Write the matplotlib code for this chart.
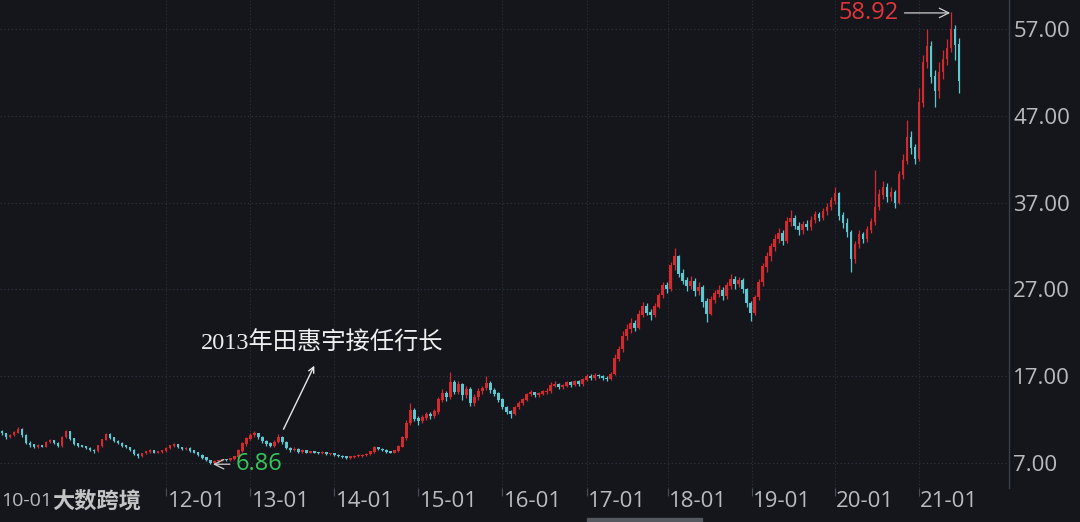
import numpy as np
import matplotlib
matplotlib.use("Agg")
import matplotlib.pyplot as plt
import matplotlib.transforms as mtransforms
from matplotlib.patches import Rectangle

# candle data (roughly 2.5 weeks per candle)
opens = [
    10.6, 10.4, 10.0, 10.2, 10.5, 10.9, 10.2, 9.3, 9.1, 8.8,
    9.0, 8.9, 9.4, 9.6, 9.3, 9.0, 10.0, 10.6, 9.8, 9.2,
    9.0, 8.9, 8.7, 8.5, 8.4, 9.0, 9.7, 10.3, 9.9, 9.5,
    9.3, 9.0, 8.8, 8.5, 8.0, 7.8, 8.1, 8.3, 8.4, 8.2,
    8.3, 8.4, 8.7, 9.0, 9.1, 8.8, 8.6, 8.7, 8.4, 8.2,
    7.9, 7.6, 7.3, 7.0, 7.2, 7.3, 7.4, 7.3, 7.5, 7.7,
    8.4, 9.2, 9.8, 10.2, 10.4, 10.0, 9.5, 9.2, 9.0, 9.4,
    10.0, 9.4, 8.7, 8.5, 8.6, 8.3, 8.4, 8.2, 8.3, 8.2,
    8.1, 8.2, 8.0, 8.1, 7.9, 7.8, 7.7, 7.6, 7.7, 7.75,
    7.8, 7.9, 8.0, 8.3, 8.8, 8.6, 8.5, 8.3, 8.2, 8.4,
    8.9, 9.9, 11.6, 13.0, 12.1, 11.8, 12.2, 12.6, 12.4, 12.9,
    14.3, 15.0, 14.6, 16.3, 15.2, 16.0, 14.8, 15.5, 13.9, 14.6,
    15.3, 15.6, 16.2, 15.4, 15.0, 14.3, 13.4, 12.9, 12.6, 13.4,
    13.9, 14.3, 14.9, 15.1, 14.8, 15.0, 15.2, 15.3, 15.9, 16.1,
    15.7, 15.9, 16.3, 16.0, 16.4, 16.1, 16.6, 17.0, 16.8, 17.1,
    17.0, 16.8, 16.7, 17.2, 19.0, 20.1, 21.6, 22.4, 23.1, 22.6,
    24.1, 25.0, 24.3, 24.0, 25.0, 26.3, 27.4, 27.0, 29.8, 30.8,
    28.8, 28.0, 27.4, 27.9, 26.8, 27.2, 25.6, 24.2, 25.8, 26.5,
    26.9, 26.2, 27.4, 28.2, 27.6, 28.0, 27.0, 25.4, 24.3, 26.1,
    27.8, 29.6, 30.8, 31.9, 32.8, 33.5, 32.6, 34.8, 35.2, 34.3,
    33.8, 34.5, 34.2, 35.0, 35.6, 35.2, 36.0, 36.5, 37.2, 38.0,
    35.5, 34.6, 33.6, 30.5, 32.2, 33.3, 32.8, 33.9, 34.8, 36.5,
    37.9, 38.8, 37.6, 38.2, 37.0, 40.2, 41.8, 44.5, 43.3, 42.0,
    48.5, 53.2, 55.0, 51.5, 49.8, 52.0, 53.5, 54.8, 57.0, 55.2,
]
closes = [
    10.4, 10.0, 10.2, 10.5, 10.9, 10.2, 9.3, 9.1, 8.8, 9.0,
    8.9, 9.4, 9.6, 9.3, 9.0, 10.0, 10.6, 9.8, 9.2, 9.0,
    8.9, 8.7, 8.5, 8.4, 9.0, 9.7, 10.3, 9.9, 9.5, 9.3,
    9.0, 8.8, 8.5, 8.0, 7.8, 8.1, 8.3, 8.4, 8.2, 8.3,
    8.4, 8.7, 9.0, 9.1, 8.8, 8.6, 8.7, 8.4, 8.2, 7.9,
    7.6, 7.3, 7.0, 7.2, 7.3, 7.4, 7.3, 7.5, 7.7, 8.4,
    9.2, 9.8, 10.2, 10.4, 10.0, 9.5, 9.2, 9.0, 9.4, 10.0,
    9.4, 8.7, 8.5, 8.6, 8.3, 8.4, 8.2, 8.3, 8.2, 8.1,
    8.2, 8.0, 8.1, 7.9, 7.8, 7.7, 7.6, 7.7, 7.8, 7.85,
    7.9, 8.0, 8.3, 8.8, 8.6, 8.5, 8.3, 8.2, 8.4, 8.9,
    9.9, 11.6, 13.0, 12.1, 11.8, 12.2, 12.6, 12.4, 12.9, 14.3,
    15.0, 14.6, 16.3, 15.2, 16.0, 14.8, 15.5, 13.9, 14.6, 15.3,
    15.6, 16.2, 15.4, 15.0, 14.3, 13.4, 12.9, 12.6, 13.4, 13.9,
    14.3, 14.9, 15.1, 14.8, 15.0, 15.2, 15.3, 15.9, 16.1, 15.7,
    15.9, 16.3, 16.0, 16.4, 16.1, 16.6, 17.0, 16.8, 17.1, 17.0,
    16.8, 16.7, 17.2, 19.0, 20.1, 21.6, 22.4, 23.1, 22.6, 24.1,
    25.0, 24.3, 24.0, 25.0, 26.3, 27.4, 27.0, 29.8, 30.8, 28.8,
    28.0, 27.4, 27.9, 26.8, 27.2, 25.6, 24.2, 25.8, 26.5, 26.9,
    26.2, 27.4, 28.2, 27.6, 28.0, 27.0, 25.4, 24.3, 26.1, 27.8,
    29.6, 30.8, 31.9, 32.8, 33.5, 32.6, 34.8, 35.2, 34.3, 33.8,
    34.5, 34.2, 35.0, 35.6, 35.2, 36.0, 36.5, 37.2, 38.0, 35.5,
    34.6, 33.6, 30.5, 32.2, 33.3, 32.8, 33.9, 34.8, 36.5, 37.9,
    38.8, 37.6, 38.2, 37.0, 40.2, 41.8, 44.5, 43.3, 42.0, 48.5,
    53.2, 55.0, 51.5, 49.8, 52.0, 53.5, 54.8, 57.0, 55.2, 51.0,
]
highs = [
    10.8, 10.5, 10.3, 10.7, 11.1, 11.0, 10.3, 9.5, 9.2, 9.2,
    9.1, 9.5, 9.8, 9.7, 9.4, 10.1, 10.8, 10.7, 9.9, 9.3,
    9.1, 9.0, 8.8, 8.6, 9.1, 9.8, 10.5, 10.4, 10.0, 9.6,
    9.4, 9.1, 8.9, 8.6, 8.1, 8.2, 8.4, 8.6, 8.5, 8.4,
    8.5, 8.8, 9.1, 9.3, 9.2, 8.9, 8.8, 8.8, 8.5, 8.3,
    8.0, 7.7, 7.4, 7.3, 7.4, 7.5, 7.5, 7.6, 7.8, 8.6,
    9.4, 10.0, 10.4, 10.7, 10.5, 10.1, 9.7, 9.4, 9.6, 10.3,
    10.1, 9.5, 8.8, 8.8, 8.7, 8.6, 8.5, 8.4, 8.4, 8.3,
    8.4, 8.3, 8.2, 8.2, 8.0, 7.9, 7.8, 7.8, 7.9, 8.0,
    8.0, 8.1, 8.4, 9.0, 8.9, 8.7, 8.6, 8.4, 8.5, 9.1,
    10.1, 11.9, 13.9, 13.3, 12.4, 12.5, 12.9, 12.9, 13.2, 14.6,
    15.5, 15.3, 17.5, 16.6, 16.5, 16.2, 15.9, 15.7, 14.9, 15.6,
    15.9, 17.0, 16.4, 15.6, 15.2, 14.5, 13.6, 13.1, 13.6, 14.1,
    14.5, 15.1, 15.4, 15.2, 15.2, 15.4, 15.6, 16.3, 16.5, 16.2,
    16.1, 16.5, 16.5, 16.6, 16.6, 16.8, 17.3, 17.2, 17.4, 17.3,
    17.1, 17.0, 17.5, 19.5, 20.5, 22.2, 23.0, 23.7, 23.5, 24.6,
    25.6, 25.4, 24.7, 25.4, 26.6, 27.8, 27.9, 30.1, 31.8, 31.0,
    29.3, 28.4, 28.5, 28.3, 27.8, 27.5, 26.0, 26.2, 26.9, 27.5,
    27.3, 27.8, 28.8, 28.6, 28.4, 28.3, 27.2, 25.7, 26.4, 28.2,
    30.0, 31.3, 32.4, 33.4, 34.1, 33.8, 35.3, 36.1, 35.6, 34.8,
    34.9, 35.0, 35.4, 36.0, 35.9, 36.4, 36.9, 37.6, 38.8, 38.2,
    35.9, 35.2, 33.9, 32.6, 33.8, 33.6, 34.3, 35.2, 40.8, 38.6,
    39.5, 39.2, 38.8, 38.5, 40.6, 42.6, 46.5, 45.2, 43.8, 50.2,
    54.0, 57.0, 55.6, 52.3, 53.2, 54.6, 55.9, 58.92, 57.5, 56.0,
]
lows = [
    10.2, 9.8, 9.9, 10.1, 10.4, 10.0, 9.2, 8.9, 8.7, 8.7,
    8.8, 8.8, 9.3, 9.2, 8.9, 8.9, 9.9, 9.7, 9.1, 8.9,
    8.8, 8.6, 8.4, 8.2, 8.3, 8.9, 9.6, 9.8, 9.4, 9.2,
    8.9, 8.7, 8.4, 7.9, 7.6, 7.7, 8.0, 8.2, 8.1, 8.1,
    8.2, 8.3, 8.6, 8.9, 8.7, 8.5, 8.5, 8.3, 8.1, 7.8,
    7.5, 7.2, 6.86, 6.95, 7.1, 7.2, 7.2, 7.2, 7.4, 7.6,
    8.3, 9.0, 9.6, 10.0, 9.8, 9.3, 9.0, 8.8, 8.9, 9.3,
    9.2, 8.6, 8.3, 8.4, 8.2, 8.2, 8.1, 8.1, 8.1, 8.0,
    8.0, 7.9, 7.9, 7.8, 7.7, 7.6, 7.5, 7.5, 7.6, 7.7,
    7.7, 7.8, 7.9, 8.2, 8.5, 8.4, 8.2, 8.1, 8.1, 8.3,
    8.8, 9.7, 11.4, 11.8, 11.4, 11.6, 12.0, 12.1, 12.2, 12.7,
    14.0, 14.2, 14.4, 14.9, 15.0, 14.3, 14.5, 13.6, 13.6, 14.3,
    15.0, 15.4, 15.1, 14.7, 14.0, 13.2, 12.6, 12.2, 12.5, 13.2,
    13.7, 14.1, 14.7, 14.6, 14.6, 14.8, 15.0, 15.1, 15.7, 15.5,
    15.5, 15.7, 15.8, 15.9, 15.9, 15.9, 16.4, 16.6, 16.6, 16.8,
    16.6, 16.5, 16.6, 17.1, 18.7, 19.8, 21.2, 22.0, 22.2, 22.4,
    23.8, 24.0, 23.5, 23.8, 24.8, 26.0, 26.6, 26.8, 29.2, 28.4,
    27.6, 26.8, 27.0, 26.2, 26.4, 25.0, 23.2, 24.0, 25.4, 26.1,
    25.8, 25.9, 27.0, 27.1, 27.3, 26.6, 25.0, 23.4, 24.0, 25.8,
    27.4, 29.0, 30.3, 31.4, 32.3, 32.1, 32.4, 34.3, 34.0, 33.3,
    33.4, 33.8, 33.9, 34.7, 34.9, 35.0, 35.6, 36.1, 36.8, 35.0,
    34.1, 33.0, 29.0, 30.0, 31.8, 32.3, 32.5, 33.5, 34.4, 36.2,
    37.4, 37.1, 37.2, 36.4, 36.8, 39.7, 41.5, 42.6, 41.5, 41.8,
    48.0, 52.5, 50.8, 48.0, 49.0, 51.2, 52.8, 54.3, 53.4, 49.6,
]

# candle index of each January on the x axis
year_ticks = [41, 62, 83, 104, 125, 146, 166.25, 187.25, 208, 229]
year_labels = ["12-01", "13-01", "14-01", "15-01", "16-01",
               "17-01", "18-01", "19-01", "20-01", "21-01"]
price_ticks = [7, 17, 27, 37, 47, 57]

bg = "#14161c"
up_color = "#d42a2e"
down_color = "#5ec8d2"
grid_color = "#2e323c"
text_color = "#b9bbbe"
num_font = ["Open Sans", "DejaVu Sans"]

fig = plt.figure(figsize=(10.8, 5.22), dpi=100, facecolor=bg)
ax = fig.add_axes([0, 34 / 522, 1009 / 1080, 488 / 522])
ax.set_facecolor(bg)

o = np.array(opens)
c = np.array(closes)
h = np.array(highs)
l = np.array(lows)
x = np.arange(len(c))
colors = np.where(c >= o, up_color, down_color)

ax.vlines(x, l, h, colors=colors, linewidth=0.9, zorder=3)
ax.bar(x, np.abs(c - o) + 0.05, bottom=np.minimum(o, c), width=0.65,
       color=colors, linewidth=0, zorder=4)

ax.set_xlim(-0.5, 251.5)
ax.set_ylim(4.12, 60.34)

# grid
for p in price_ticks:
    ax.axhline(p, color=grid_color, linewidth=0.9, linestyle=(0, (1, 2)), zorder=1)
for t in year_ticks:
    ax.axvline(t, color=grid_color, linewidth=0.8, linestyle=(0, (1, 2)), zorder=1)

# axes styling
for s in ["top", "left", "bottom"]:
    ax.spines[s].set_visible(False)
ax.spines["right"].set_color("#3a3e47")
ax.spines["right"].set_linewidth(1.0)

ax.yaxis.tick_right()
ax.set_yticks(price_ticks)
ax.set_yticklabels([f"{p:.2f}" for p in price_ticks])
ax.tick_params(axis="y", length=0, pad=3, labelsize=16, labelcolor=text_color)

ax.set_xticks(year_ticks)
ax.set_xticklabels(year_labels)
ax.tick_params(axis="x", length=6, width=0.8, color="#4a4e57", pad=-4,
               labelsize=16, labelcolor=text_color, direction="out")
offset = mtransforms.ScaledTranslation(1 / 72, 0, fig.dpi_scale_trans)
for lab in ax.get_xticklabels():
    lab.set_horizontalalignment("left")
    lab.set_transform(lab.get_transform() + offset)

for lab in ax.get_xticklabels() + ax.get_yticklabels():
    lab.set_family(num_font)

# annotations
ax.annotate("", xy=(78.3, 18.5), xytext=(70, 10.6),
            arrowprops=dict(arrowstyle="->", color="#e8e8e8", lw=1.0), zorder=6)
ax.text(80, 20.8, "2013年田惠宇接任行长", ha="center", va="center",
        color="#efefef", fontsize=17.5,
        family=["Liberation Serif", "Noto Sans CJK SC"], zorder=6)

ax.annotate("6.86", xy=(52, 6.86), xytext=(58.3, 6.86), ha="left", va="center",
            color="#35c65a", fontsize=17, family=num_font,
            arrowprops=dict(arrowstyle="->", color="#d0d0d0", lw=0.9), zorder=6)
ax.annotate("58.92", xy=(237.5, 58.85), xytext=(224, 58.85), ha="right", va="center",
            color="#e0363a", fontsize=17, family=num_font,
            arrowprops=dict(arrowstyle="->", color="#d0d0d0", lw=0.9), zorder=6)

# partial first label and watermark
fig.text(1 / 1080, 1 - 501 / 522, "10-01", ha="left", va="center",
         color=text_color, fontsize=14, family=num_font)
fig.text(52 / 1080, 1 - 501 / 522, "大数跨境", ha="left", va="center",
         color="#d8d8d8", fontsize=16, fontweight="bold", alpha=0.9,
         family=["Noto Sans CJK SC", "DejaVu Sans"])

# scrollbar strip at the bottom
fig.patches.append(Rectangle((587 / 1080, 0), 115 / 1080, 4 / 522,
                             transform=fig.transFigure, color="#55585f"))

fig.savefig("out.png", dpi=100, facecolor=bg)
